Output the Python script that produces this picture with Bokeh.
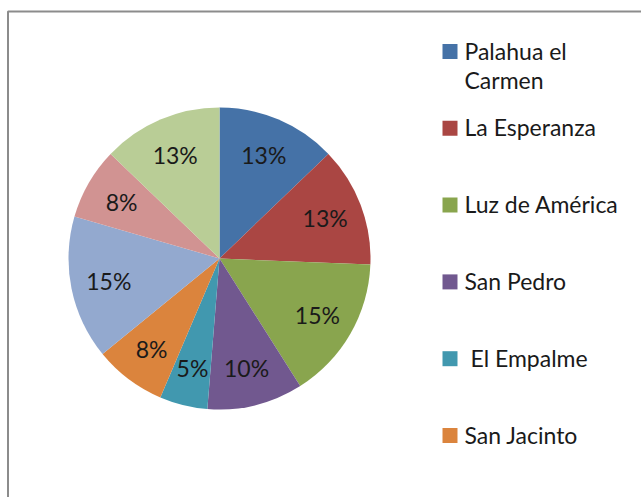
import math
import textwrap
from bokeh.plotting import figure
from bokeh.models import Range1d, BoxAnnotation
from bokeh.core.properties import value
from bokeh.embed import file_html
from bokeh.resources import INLINE

# ---- data ----
legend_names = ["Palahua el Carmen", "La Esperanza", "Luz de América",
                "San Pedro", " El Empalme", "San Jacinto"]
counts = [5, 5, 6, 4, 2, 3, 6, 3, 5]
colors = ["#4572A7", "#AA4643", "#89A54E", "#71588F", "#4198AF",
          "#DB843D", "#93A9CF", "#D19392", "#B9CD96"]

# ---- layout (pixels, y up) ----
W, H = 641, 497
cx, cy, r = 219, 239, 151
r_lab = 113

total = sum(counts)
start, end, lx, ly, labels = [], [], [], [], []
acc = 0.0
for c in counts:
    f0 = acc / total
    acc += c
    f1 = acc / total
    a0 = math.pi / 2 - 2 * math.pi * f0
    a1 = math.pi / 2 - 2 * math.pi * f1
    start.append(a0)
    end.append(a1)
    am = (a0 + a1) / 2
    lx.append(cx + r_lab * math.cos(am))
    ly.append(cy + r_lab * math.sin(am))
    labels.append(f"{round(100 * c / total)}%")

p = figure(width=W, height=H, x_range=Range1d(0, W), y_range=Range1d(0, H),
           output_backend="svg", toolbar_location=None, min_border=0)
p.axis.visible = False
p.grid.visible = False
p.outline_line_color = None
p.background_fill_color = "white"
p.border_fill_color = "white"

# chart area border (left and top edges visible; right/bottom lie outside the page)
p.add_layout(BoxAnnotation(left=7.5, right=W + 30, bottom=-30, top=486,
                           fill_color=None, fill_alpha=0,
                           line_color="#8C8C8C", line_alpha=1.0, line_width=2))

p.wedge(x=cx, y=cy, radius=r, start_angle=start, end_angle=end,
        direction="clock", fill_color=colors, line_color=None)

p.text(x=lx, y=ly, text=labels, text_font=value("Lato"), text_font_size="23px",
       text_color="#1a1a1a", text_align="center", text_baseline="middle")

# legend (first six entries visible)
sq_x = 449.5
top_c = 497 - 51
step = 76.8
leg_y = [top_c - i * step for i in range(len(legend_names))]
p.scatter(x=[sq_x] * len(legend_names), y=leg_y, marker="square", size=15,
          fill_color=colors[:len(legend_names)], line_color=None)
wrapped = [textwrap.fill(n, 14) if not n.startswith(" ") else n for n in legend_names]
lab_x = [470 if n.startswith(" ") else 464 for n in legend_names]
p.text(x=lab_x, y=[v + 15 for v in leg_y], text=[w.strip() for w in wrapped],
       text_font=value("Lato"), text_font_size="23px", text_color="#1a1a1a",
       text_align="left", text_baseline="top", text_line_height=1.05)

open("out.html", "w").write(file_html(p, INLINE))
